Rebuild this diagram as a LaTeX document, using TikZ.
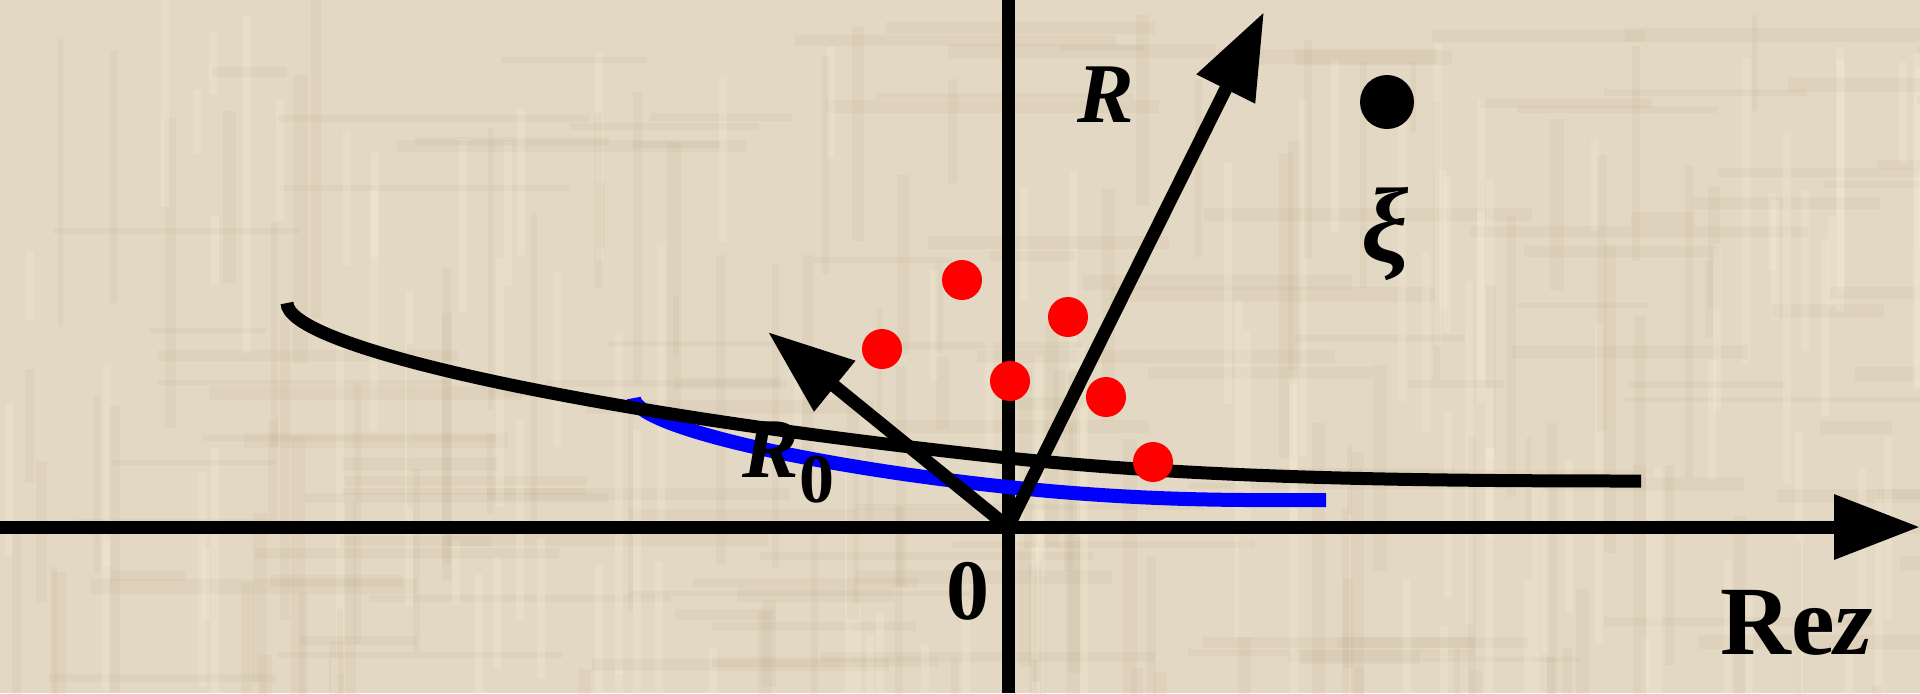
\documentclass[tikz,border=0pt]{standalone}
\usepackage{fontspec}
\setmainfont{Liberation Serif}
\usetikzlibrary{arrows.meta}

\definecolor{paper}{RGB}{227,216,195}
\definecolor{darkweave}{RGB}{165,148,115}
\definecolor{lightweave}{RGB}{248,238,218}
\newcommand{\setfs}[1]{\fontsize{#1}{#1}\selectfont}

\begin{document}
\begin{tikzpicture}[x=0.5pt,y=-0.5pt,
		axis/.style={line width=6.5pt},
		vec/.style={line width=6.5pt,-{Triangle[length=43pt,width=31pt]}},
		pole/.style={circle,fill=red,inner sep=0pt,minimum size=20pt},
		lbl/.style={inner sep=0pt}]

	\fill[paper] (0,0) rectangle (1920,693);
	\useasboundingbox (0,0) rectangle (1920,693);

	% woven paper background
	\pgfmathsetseed{17}
	\foreach \k in {1,...,110}{
		\pgfmathsetmacro{\sx}{rnd*1920}
		\pgfmathsetmacro{\sy}{rnd*693}
		\pgfmathsetmacro{\sw}{5+rnd*10}
		\pgfmathsetmacro{\sl}{60+rnd*260}
		\fill[darkweave,opacity=0.08] (\sx,\sy) rectangle ++(\sw,\sl);
		\pgfmathsetmacro{\sx}{rnd*1920}
		\pgfmathsetmacro{\sy}{rnd*693}
		\pgfmathsetmacro{\sw}{5+rnd*10}
		\pgfmathsetmacro{\sl}{60+rnd*300}
		\fill[darkweave,opacity=0.08] (\sx,\sy) rectangle ++(\sl,\sw);
		\pgfmathsetmacro{\sx}{rnd*1920}
		\pgfmathsetmacro{\sy}{rnd*693}
		\pgfmathsetmacro{\sl}{60+rnd*300}
		\fill[lightweave,opacity=0.25] (\sx,\sy) rectangle ++(8,\sl);
	}

	\coordinate (O) at (1008,527);
	\coordinate (ytop) at (1008,0);
	\coordinate (ybot) at (1008,693);
	\coordinate (xleft) at (0,527);
	\coordinate (xright) at (1920,527);
	\coordinate (Rtip) at (1264,12);
	\coordinate (Rztip) at (768,332);

	\draw[axis] (ytop) -- (ybot);
	\draw[vec] (xleft) -- (xright);

	% the two contours
	\draw[line width=7pt,blue] (634,398) .. controls (634,425) and (800,465) .. (1008,487)
		.. controls (1150,502) and (1250,500) .. (1326,500);
	\draw[axis] (287,303) .. controls (287,345) and (560,410) .. (1008,458)
		.. controls (1200,478) and (1400,481) .. (1641,481);

	\draw[vec] (O) -- (Rtip);
	\draw[vec] (O) -- (Rztip);

	% poles
	\foreach \px/\py [count=\i] in {962/280,1068/317,882/349,1010/381,1106/397,1153/462}
		\node[pole] (p\i) at (\px,\py) {};
	\node[circle,fill=black,inner sep=0pt,minimum size=27pt] (xidot) at (1387,102) {};

	\node[lbl] (rlabel) at (1106,95) {\setfs{42.5}\bfseries\itshape R};
	\node[lbl,anchor=base west] (rzlabel) at (742,477)
		{{\setfs{42.5}\bfseries\itshape R}\raisebox{-12.5pt}{\setfs{35}\bfseries 0}};
	\node[lbl] (xilabel) at (1385,234) {\setfs{53}\bfseries\itshape ξ};
	\node[lbl] (orig) at (968,591) {\setfs{43}\bfseries 0};
	\node[lbl,anchor=base west] (rez) at (1720,654) {\setfs{49}\bfseries Re\textit{z}};

\end{tikzpicture}
\end{document}
